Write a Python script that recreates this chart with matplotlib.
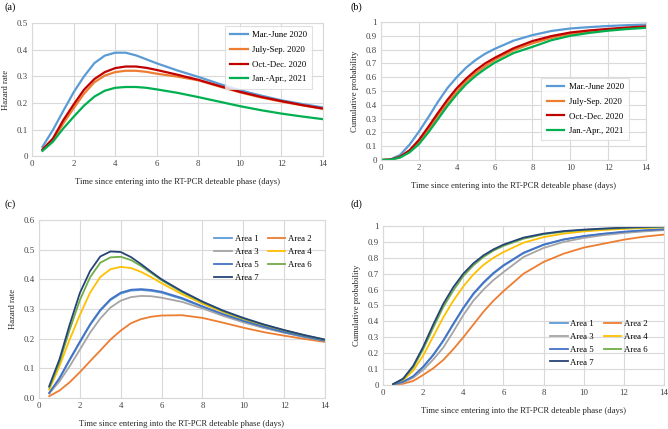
import matplotlib
matplotlib.use("Agg")
import matplotlib.pyplot as plt

plt.rcParams['font.family'] = ['Liberation Serif', 'DejaVu Serif']

# ---- data ----
x_haz = [0.5, 1, 1.5, 2, 2.5, 3, 3.5, 4, 4.5, 5, 5.5, 6, 7, 8, 9, 10, 11, 12, 13, 14]
x_cum = [0, 0.5, 1, 1.5, 2, 2.5, 3, 3.5, 4, 4.5, 5, 5.5, 6, 7, 8, 9, 10, 11, 12, 13, 14]

period_names = ["Mar.-June 2020", "July-Sep. 2020", "Oct.-Dec. 2020", "Jan.-Apr., 2021"]

haz_mar = [0.035, 0.098, 0.17, 0.24, 0.30, 0.35, 0.378, 0.389, 0.389, 0.379, 0.364, 0.349, 0.322, 0.298, 0.272, 0.248, 0.228, 0.21, 0.196, 0.183]
haz_jul = [0.022, 0.058, 0.123, 0.18, 0.235, 0.278, 0.303, 0.316, 0.321, 0.321, 0.317, 0.31, 0.299, 0.285, 0.262, 0.24, 0.221, 0.205, 0.191, 0.178]
haz_oct = [0.025, 0.066, 0.135, 0.194, 0.25, 0.29, 0.316, 0.331, 0.337, 0.337, 0.332, 0.324, 0.306, 0.287, 0.264, 0.242, 0.223, 0.207, 0.192, 0.179]
haz_jan = [0.02, 0.054, 0.104, 0.148, 0.19, 0.224, 0.246, 0.257, 0.26, 0.26, 0.257, 0.251, 0.238, 0.222, 0.205, 0.188, 0.173, 0.16, 0.149, 0.139]

cum_mar = [0, 0.005, 0.036, 0.11, 0.205, 0.31, 0.42, 0.52, 0.60, 0.67, 0.725, 0.77, 0.805, 0.865, 0.905, 0.935, 0.953, 0.963, 0.971, 0.977, 0.981]
cum_jul = [0, 0.003, 0.02, 0.062, 0.13, 0.22, 0.32, 0.41, 0.495, 0.57, 0.63, 0.68, 0.725, 0.795, 0.846, 0.885, 0.913, 0.931, 0.944, 0.955, 0.964]
cum_oct = [0, 0.003, 0.024, 0.07, 0.145, 0.24, 0.34, 0.435, 0.52, 0.59, 0.65, 0.70, 0.74, 0.81, 0.862, 0.898, 0.924, 0.939, 0.95, 0.96, 0.968]
cum_jan = [0, 0.002, 0.018, 0.055, 0.115, 0.2, 0.295, 0.39, 0.475, 0.55, 0.61, 0.66, 0.705, 0.775, 0.82, 0.868, 0.9, 0.921, 0.937, 0.949, 0.958]

area_names = ["Area 1", "Area 2", "Area 3", "Area 4", "Area 5", "Area 6", "Area 7"]

haz_a1 = [0.016, 0.065, 0.127, 0.187, 0.246, 0.294, 0.33, 0.352, 0.362, 0.364, 0.361, 0.355, 0.334, 0.307, 0.281, 0.258, 0.238, 0.221, 0.206, 0.192]
haz_a2 = [0.006, 0.025, 0.053, 0.087, 0.124, 0.16, 0.197, 0.227, 0.252, 0.266, 0.274, 0.278, 0.279, 0.27, 0.254, 0.237, 0.222, 0.21, 0.199, 0.189]
haz_a3 = [0.015, 0.056, 0.107, 0.163, 0.22, 0.268, 0.305, 0.328, 0.34, 0.344, 0.343, 0.338, 0.324, 0.302, 0.277, 0.255, 0.236, 0.22, 0.205, 0.192]
haz_a4 = [0.028, 0.107, 0.197, 0.28, 0.355, 0.408, 0.434, 0.442, 0.438, 0.425, 0.407, 0.387, 0.35, 0.318, 0.29, 0.265, 0.244, 0.226, 0.21, 0.195]
haz_a5 = [0.017, 0.067, 0.13, 0.19, 0.248, 0.297, 0.333, 0.355, 0.365, 0.367, 0.364, 0.358, 0.337, 0.309, 0.283, 0.26, 0.24, 0.222, 0.207, 0.193]
haz_a6 = [0.035, 0.12, 0.23, 0.33, 0.407, 0.456, 0.474, 0.476, 0.465, 0.445, 0.421, 0.397, 0.357, 0.323, 0.293, 0.268, 0.247, 0.228, 0.211, 0.196]
haz_a7 = [0.04, 0.13, 0.247, 0.354, 0.428, 0.477, 0.494, 0.492, 0.475, 0.451, 0.425, 0.4, 0.36, 0.325, 0.295, 0.27, 0.248, 0.229, 0.212, 0.197]

cum_a1 = [0.003, 0.019, 0.053, 0.112, 0.186, 0.276, 0.38, 0.481, 0.57, 0.64, 0.70, 0.749, 0.829, 0.881, 0.914, 0.935, 0.95, 0.962, 0.971, 0.977]
cum_a2 = [0.001, 0.008, 0.025, 0.063, 0.105, 0.157, 0.225, 0.30, 0.38, 0.46, 0.53, 0.59, 0.70, 0.774, 0.826, 0.864, 0.889, 0.914, 0.933, 0.946]
cum_a3 = [0.002, 0.015, 0.045, 0.095, 0.16, 0.235, 0.335, 0.44, 0.53, 0.60, 0.66, 0.71, 0.805, 0.862, 0.9, 0.925, 0.943, 0.956, 0.966, 0.974]
cum_a4 = [0.004, 0.03, 0.09, 0.185, 0.305, 0.425, 0.53, 0.62, 0.695, 0.755, 0.80, 0.836, 0.895, 0.93, 0.952, 0.966, 0.975, 0.982, 0.987, 0.99]
cum_a5 = [0.003, 0.02, 0.055, 0.115, 0.19, 0.28, 0.385, 0.486, 0.575, 0.645, 0.705, 0.753, 0.832, 0.883, 0.916, 0.937, 0.952, 0.964, 0.973, 0.979]
cum_a6 = [0.005, 0.036, 0.11, 0.225, 0.36, 0.49, 0.595, 0.685, 0.752, 0.805, 0.845, 0.875, 0.92, 0.948, 0.964, 0.975, 0.982, 0.987, 0.991, 0.994]
cum_a7 = [0.005, 0.04, 0.12, 0.24, 0.38, 0.51, 0.615, 0.70, 0.765, 0.815, 0.853, 0.883, 0.927, 0.952, 0.968, 0.977, 0.984, 0.99, 0.994, 0.997]

period_colors = ["#5B9BD5", "#ED7D31", "#C00000", "#00B050"]
area_colors = ["#5B9BD5", "#ED7D31", "#A5A5A5", "#FFC000", "#4472C4", "#70AD47", "#264478"]
grid_col = "#D9D9D9"
xlab = "Time since entering into the RT-PCR deteable phase (days)"
fs = 6.3
lab_fs = 6.2


def style_axes(ax, ymax, ystep, yfmt):
	ax.set_xlim(0, 14)
	ax.set_ylim(0, ymax)
	ax.set_xticks(range(0, 15, 2))
	n = int(round(ymax / ystep))
	ticks = [i * ystep for i in range(n + 1)]
	ax.set_yticks(ticks)
	ax.set_yticklabels([yfmt(t) for t in ticks])
	ax.grid(True, color=grid_col, linewidth=0.8)
	ax.set_axisbelow(True)
	for s in ax.spines.values():
		s.set_color(grid_col)
		s.set_linewidth(0.8)
	ax.tick_params(length=0, labelsize=fs, pad=3, colors="#404040")
	ax.set_xlabel(xlab, fontsize=lab_fs, color="#262626", labelpad=7)
#end_def


def area_legend(ax, anchor):
	# Excel fills the two columns row by row
	h, l = ax.get_legend_handles_labels()
	order = [0, 2, 4, 6, 1, 3, 5]
	ax.legend([h[i] for i in order], [l[i] for i in order], loc="upper right",
		fontsize=fs, frameon=False, ncol=2, handlelength=2.0, handletextpad=0.3,
		columnspacing=1.1, labelspacing=0.55, borderpad=0.2, bbox_to_anchor=anchor)
#end_def


fig = plt.figure(figsize=(6.68, 4.29), dpi=100)

ax_a = fig.add_axes([0.048, 0.636, 0.4356, 0.310])
ax_b = fig.add_axes([0.5704, 0.627, 0.3967, 0.3217])
ax_c = fig.add_axes([0.0584, 0.0723, 0.4281, 0.4149])
ax_d = fig.add_axes([0.5734, 0.1026, 0.4207, 0.3706])

# (a)
for ys, c, name in zip([haz_mar, haz_jul, haz_oct, haz_jan], period_colors, period_names):
	ax_a.plot(x_haz, ys, color=c, linewidth=1.6, label=name)
#end_for
style_axes(ax_a, 0.5, 0.1, lambda t: "0" if t == 0 else "%g" % round(t, 1))
ax_a.set_ylabel("Hazard rate", fontsize=lab_fs, color="#262626", labelpad=5)
leg = ax_a.legend(loc="upper right", fontsize=fs, frameon=True, fancybox=False,
	handlelength=2.0, handletextpad=0.5, borderpad=0.6, labelspacing=0.75,
	bbox_to_anchor=(0.978, 1.012))
leg.get_frame().set_edgecolor(grid_col)
leg.get_frame().set_linewidth(0.8)

# (b)
for ys, c, name in zip([cum_mar, cum_jul, cum_oct, cum_jan], period_colors, period_names):
	ax_b.plot(x_cum, ys, color=c, linewidth=1.6, label=name)
#end_for
style_axes(ax_b, 1.0, 0.1, lambda t: "%g" % round(t, 1))
ax_b.set_ylabel("Cumulative probability", fontsize=lab_fs, color="#262626", labelpad=5)
leg = ax_b.legend(loc="lower right", fontsize=fs, frameon=True, fancybox=False,
	handlelength=2.0, handletextpad=0.5, borderpad=0.6, labelspacing=0.75,
	bbox_to_anchor=(0.952, 0.11))
leg.get_frame().set_edgecolor(grid_col)
leg.get_frame().set_linewidth(0.8)

# (c)
for ys, c, name in zip([haz_a1, haz_a2, haz_a3, haz_a4, haz_a5, haz_a6, haz_a7], area_colors, area_names):
	ax_c.plot(x_haz, ys, color=c, linewidth=1.3, label=name)
#end_for
style_axes(ax_c, 0.6, 0.1, lambda t: "%.1f" % t)
ax_c.set_ylabel("Hazard rate", fontsize=lab_fs, color="#262626", labelpad=5)
area_legend(ax_c, (0.975, 0.95))

# (d)
for ys, c, name in zip([cum_a1, cum_a2, cum_a3, cum_a4, cum_a5, cum_a6, cum_a7], area_colors, area_names):
	ax_d.plot(x_haz, ys, color=c, linewidth=1.3, label=name)
#end_for
style_axes(ax_d, 1.0, 0.1, lambda t: "%g" % round(t, 1))
ax_d.set_ylabel("Cumulative probability", fontsize=lab_fs, color="#262626", labelpad=5)
area_legend(ax_d, (0.962, 0.45))

fig.text(0.006, 0.984, "(a)", fontsize=fs + 1, va="center", ha="left")
fig.text(0.524, 0.984, "(b)", fontsize=fs + 1, va="center", ha="left")
fig.text(0.006, 0.524, "(c)", fontsize=fs + 1, va="center", ha="left")
fig.text(0.524, 0.524, "(d)", fontsize=fs + 1, va="center", ha="left")

fig.savefig("out.png", dpi=100)
